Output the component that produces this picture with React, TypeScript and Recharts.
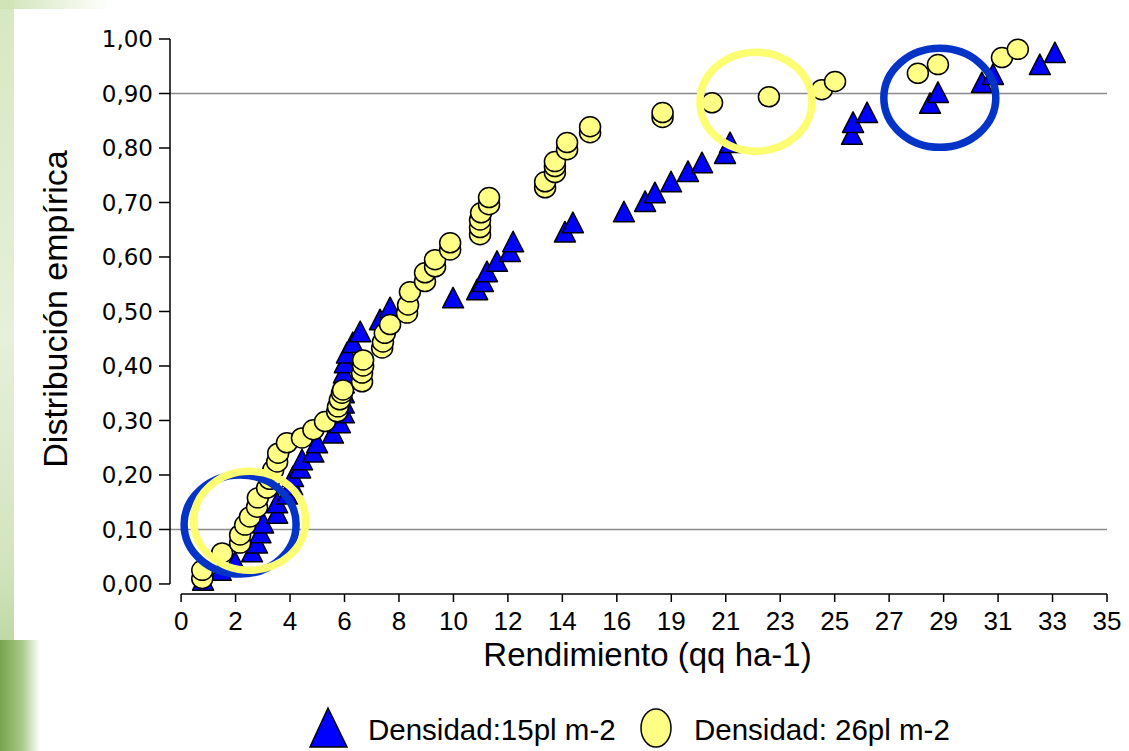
import React from "react";
import {
  ScatterChart,
  Scatter,
  XAxis,
  YAxis,
  ReferenceLine,
  ReferenceDot,
  Legend,
  Label,
} from "recharts";

// empirical distribution, density 15 pl m-2 (triangles)
const d15X = [
  0.83, 1.5, 2.04, 2.68, 2.87, 3.0, 3.1, 3.63, 3.63, 4.0, 4.2, 4.23, 4.5, 4.57,
  5.0, 5.14, 5.74, 6.0, 6.15, 6.15, 6.15, 6.15, 6.15, 6.19, 6.27, 6.49, 6.77,
  7.52, 7.9, 10.28, 11.19, 11.41, 11.56, 11.94, 12.43, 12.55, 14.51, 14.81,
  16.74, 17.54, 17.91, 18.52, 19.16, 19.69, 20.56, 20.75, 25.36, 25.4, 25.93,
  28.31, 28.61, 30.27, 30.69, 32.46, 33.03,
];
const d15Y = [
  0.007, 0.025, 0.04, 0.059, 0.075, 0.094, 0.112, 0.13, 0.149, 0.165, 0.182,
  0.197, 0.213, 0.228, 0.242, 0.259, 0.277, 0.296, 0.314, 0.332, 0.351, 0.369,
  0.387, 0.406, 0.424, 0.443, 0.463, 0.485, 0.507, 0.525, 0.54, 0.555, 0.573,
  0.592, 0.61, 0.628, 0.646, 0.663, 0.683, 0.702, 0.718, 0.738, 0.757, 0.773,
  0.79, 0.81, 0.825, 0.847, 0.865, 0.882, 0.902, 0.92, 0.935, 0.953, 0.975,
];

// empirical distribution, density 26 pl m-2 (circles)
const d26X = [
  0.8, 0.8, 1.55, 2.23, 2.23, 2.42, 2.6, 2.87, 2.9, 3.25, 3.35, 3.48, 3.63,
  3.67, 4.0, 4.57, 5.0, 5.44, 5.9, 5.93, 6.0, 6.08, 6.12, 6.84, 6.84, 6.88,
  6.88, 7.6, 7.63, 7.7, 7.9, 8.54, 8.58, 8.65, 9.22, 9.22, 9.6, 9.6, 10.17,
  10.17, 11.3, 11.3, 11.3, 11.34, 11.64, 11.64, 13.76, 13.76, 14.13, 14.13,
  14.13, 14.59, 14.59, 15.46, 15.46, 18.2, 18.2, 20.07, 22.22, 24.22, 24.72,
  27.85, 28.61, 31.03, 31.63,
];
const d26Y = [
  0.01, 0.025, 0.057, 0.075, 0.09, 0.108, 0.123, 0.141, 0.158, 0.176, 0.192,
  0.209, 0.224, 0.24, 0.259, 0.268, 0.283, 0.298, 0.316, 0.325, 0.338, 0.35,
  0.356, 0.371, 0.387, 0.4, 0.411, 0.433, 0.444, 0.46, 0.476, 0.497, 0.512,
  0.536, 0.555, 0.571, 0.582, 0.595, 0.613, 0.626, 0.641, 0.654, 0.668, 0.681,
  0.696, 0.709, 0.727, 0.738, 0.755, 0.766, 0.775, 0.797, 0.81, 0.828, 0.839,
  0.856, 0.865, 0.883, 0.894, 0.907, 0.922, 0.937, 0.953, 0.966, 0.981,
];

const seriesNames = ["Densidad:15pl m-2", "Densidad: 26pl m-2"];

const xTickLabels = [
  "0", "2", "4", "6", "8", "10", "12", "14", "16", "19", "21", "23", "25",
  "27", "29", "31", "33", "35",
];
const yTicks = [0, 0.1, 0.2, 0.3, 0.4, 0.5, 0.6, 0.7, 0.8, 0.9, 1.0];
const gridLines = [0.1, 0.9];

// highlight rings drawn over the plot
const ringX = [2.23, 2.59, 21.73, 28.68];
const ringY = [0.109, 0.116, 0.885, 0.892];
const ringColor = ["#0433c8", "#fdfd72", "#fdfd72", "#0433c8"];

const BLUE = "#0000ff";
const YELLOW = "#ffff85";
const X_MAX = 35;
const xTicks = xTickLabels.map((_, i) => (i * X_MAX) / (xTickLabels.length - 1));

const data15 = d15X.map((x, i) => ({ x, y: d15Y[i] }));
const data26 = d26X.map((x, i) => ({ x, y: d26Y[i] }));

const font = "Arial, 'Liberation Sans', Helvetica, sans-serif";

function TriangleMark(props: any) {
  const { cx, cy } = props;
  if (cx == null || cy == null) return null;
  return (
    <path
      d={`M${cx},${cy - 10.5}L${cx + 10.5},${cy + 10}L${cx - 10.5},${cy + 10}Z`}
      fill={BLUE}
      stroke="#000"
      strokeWidth={1.5}
      strokeLinejoin="round"
    />
  );
}

function CircleMark(props: any) {
  const { cx, cy } = props;
  if (cx == null || cy == null) return null;
  return (
    <ellipse cx={cx} cy={cy} rx={10.5} ry={10} fill={YELLOW} stroke="#000" strokeWidth={1.5} />
  );
}

function renderLegend() {
  return (
    <svg width={1129} height={51} style={{ display: "block" }}>
      <path d="M328,8L347,47L310,47Z" fill={BLUE} stroke="#000" strokeWidth={1.5} />
      <text x={368} y={40} fontSize={29.5} fontFamily={font} fill="#000">
        {seriesNames[0]}
      </text>
      <ellipse cx={656} cy={28} rx={15} ry={19} fill={YELLOW} stroke="#000" strokeWidth={1.5} />
      <text x={694} y={40} fontSize={29.5} fontFamily={font} fill="#000">
        {seriesNames[1]}
      </text>
    </svg>
  );
}

export default function App() {
  return (
    <div
      style={{
        position: "absolute",
        left: 0,
        top: 0,
        width: 1129,
        height: 751,
        background: "#fff",
        overflow: "hidden",
      }}
    >
      {/* slide background leaking in at the left edge */}
      <div
        style={{
          position: "absolute",
          left: 0,
          top: 0,
          width: 14,
          height: 751,
          background:
            "linear-gradient(to bottom, #d6e8c0, #e6f0da 45%, #d2e4bd 75%, #a6c985)",
        }}
      />
      <div
        style={{
          position: "absolute",
          left: 0,
          top: 0,
          width: 110,
          height: 9,
          background: "linear-gradient(to right, #cfe3b6, rgba(255,255,255,0))",
        }}
      />
      <div
        style={{
          position: "absolute",
          left: 0,
          top: 640,
          width: 40,
          height: 111,
          background: "linear-gradient(to right, #76a44c, #a8c98a 55%, rgba(255,255,255,0))",
        }}
      />
      <div style={{ position: "absolute", left: 0, top: 0 }}>
        <ScatterChart
          width={1129}
          height={751}
          margin={{ top: 39, right: 22, bottom: 97, left: 0 }}
        >
          <XAxis
            type="number"
            dataKey="x"
            domain={[-0.42, X_MAX]}
            ticks={xTicks}
            interval={0}
            tickFormatter={(v: number) => String(Math.round(v))}
            axisLine={false}
            tickLine={{ stroke: "#000", strokeWidth: 1.5 }}
            tickSize={8}
            tickMargin={10}
            height={60}
            tick={{ fill: "#000", fontSize: 26, fontFamily: font }}
          >
            <Label
              content={({ viewBox }: any) => (
                <text
                  x={viewBox.x + viewBox.width / 2 + 9}
                  y={viewBox.y + 72}
                  textAnchor="middle"
                  fontSize={33}
                  fontFamily={font}
                  fill="#000"
                >
                  Rendimiento (qq ha-1)
                </text>
              )}
            />
          </XAxis>
          <YAxis
            type="number"
            dataKey="y"
            domain={[-0.0184, 1]}
            ticks={yTicks}
            interval={0}
            tickFormatter={(v: number) => v.toFixed(2).replace(".", ",")}
            axisLine={false}
            tickLine={{ stroke: "#000", strokeWidth: 1.5 }}
            tickSize={11}
            tickMargin={6}
            width={170}
            tick={{ fill: "#000", fontSize: 23, fontFamily: "'DejaVu Sans', sans-serif" }}
          >
            <Label
              content={() => (
                <text
                  x={67}
                  y={309}
                  transform="rotate(-90 67 309)"
                  textAnchor="middle"
                  fontSize={34}
                  fontFamily={font}
                  fill="#000"
                >
                  Distribución empírica
                </text>
              )}
            />
          </YAxis>

          {gridLines.map((g) => (
            <ReferenceLine key={g} y={g} stroke="#8a8a8a" strokeWidth={1.5} />
          ))}
          {/* detached axis lines */}
          <ReferenceLine
            segment={[
              { x: -0.42, y: 0 },
              { x: -0.42, y: 1 },
            ]}
            stroke="#000"
            strokeWidth={1.5}
          />
          <ReferenceLine
            segment={[
              { x: 0, y: -0.0184 },
              { x: X_MAX, y: -0.0184 },
            ]}
            stroke="#000"
            strokeWidth={1.5}
          />

          <Scatter
            name={seriesNames[0]}
            data={data15}
            shape={TriangleMark}
            fill={BLUE}
            isAnimationActive={false}
          />
          <Scatter
            name={seriesNames[1]}
            data={data26}
            shape={CircleMark}
            fill={YELLOW}
            isAnimationActive={false}
          />

          {ringX.map((x, i) => (
            <ReferenceDot
              key={i}
              x={x}
              y={ringY[i]}
              r={50}
              shape={(p: any) => (
                <ellipse
                  cx={p.cx}
                  cy={p.cy}
                  rx={56}
                  ry={49.5}
                  fill="none"
                  stroke={ringColor[i]}
                  strokeWidth={7.5}
                />
              )}
            />
          ))}

          <Legend
            layout="horizontal"
            verticalAlign="middle"
            align="center"
            content={renderLegend}
            wrapperStyle={{ top: 700, left: 0, width: 1129, height: 51 }}
          />
        </ScatterChart>
      </div>
    </div>
  );
}
